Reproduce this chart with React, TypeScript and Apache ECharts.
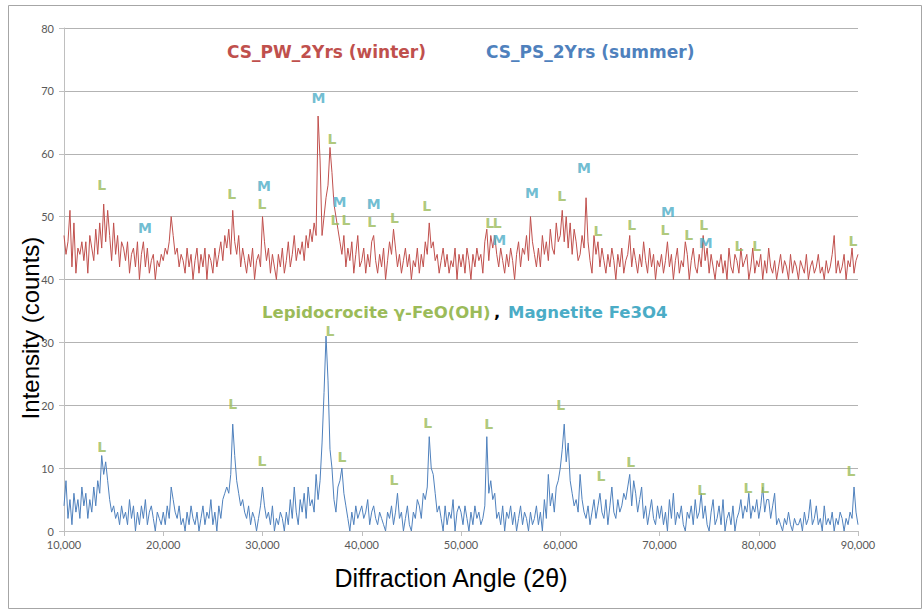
import React, { useEffect, useRef } from "react";
import * as echarts from "echarts";

// Diffraction angle sampling (x axis)
const ANGLE_START = 10000;
const ANGLE_STEP = 200;

// CS_PW_2Yrs (winter) intensity, one value per step from 10,000 to 90,000
const WINTER = [
  47,44,46,51,42,49,41,45,44,46, 43,46,41,47,45,43,48,44,49,45, 52,46,51,47,43,49,44,47,42,46, 45,43,46,41,44,45,42,46,40,44, 46,42,45,41,43,44,40,43,42,44,
  43,45,44,46,50,47,44,45,42,44, 43,41,45,42,44,40,43,45,41,44, 42,45,40,44,43,41,45,42,44,46, 43,47,45,48,44,51,46,44,47,42, 45,43,41,44,42,45,40,43,44,42,
  50,46,43,45,41,44,42,40,44,42, 45,41,43,46,42,44,47,43,45,44, 46,43,47,45,48,46,49,47,66,59, 47,50,53,55,61,57,52,50,48,46, 44,47,42,45,43,46,41,44,47,42,
  43,45,41,44,42,46,47,43,41,44, 42,45,40,43,46,44,48,45,42,44, 41,43,45,42,44,40,43,42,45,41, 44,42,46,44,49,45,46,43,44,41, 43,45,42,44,41,43,42,45,40,44,
  42,44,41,45,43,40,44,42,45,43, 44,41,46,48,43,47,45,47,44,42, 45,43,41,44,42,45,43,40,44,46, 42,45,44,47,43,50,46,44,42,45, 42,47,44,46,43,48,45,44,49,46,
  47,51,46,50,45,49,44,48,46,43, 44,47,45,53,46,43,41,47,44,46, 42,45,43,41,44,42,45,43,40,44, 42,45,41,43,44,47,42,45,43,41, 44,42,46,43,41,45,42,44,40,43,
  42,44,41,43,46,42,44,40,43,45, 41,43,42,46,44,40,43,45,42,41, 44,42,47,43,45,41,44,42,40,43, 42,44,41,43,40,45,42,41,44,43, 41,45,42,43,44,40,42,45,41,43,
  42,44,40,43,41,45,42,41,43,40, 42,44,41,43,42,40,44,41,43,42, 40,43,42,41,44,40,42,43,41,42, 44,41,42,40,43,41,42,44,47,41, 43,41,42,44,40,43,42,45,41,43,
  44,
];

// CS_PS_2Yrs (summer) intensity
const SUMMER = [
  4,8,2,5,1,6,3,5,2,7, 4,6,2,5,3,7,4,8,6,12, 9,11,8,5,3,4,2,3,1,4, 2,3,1,5,2,4,0,3,1,4, 2,5,1,3,4,2,0,3,2,1,
  3,1,4,2,7,5,3,2,4,1, 2,0,3,1,4,2,1,3,0,2, 4,1,3,2,5,1,3,0,4,2, 5,6,7,6,9,17,12,8,6,4, 5,3,2,4,1,3,2,0,2,4,
  7,4,2,3,1,4,0,2,1,3, 2,0,3,1,5,2,7,3,1,5, 3,6,2,7,4,5,3,9,5,8, 14,22,31,24,13,10,5,3,7,8, 10,6,4,2,0,3,1,4,2,3,
  4,2,3,5,1,3,4,2,1,3, 2,1,0,3,2,4,1,3,6,2, 3,0,2,4,1,0,3,2,5,4, 2,6,5,7,15,10,9,6,3,4, 2,0,4,1,3,2,5,0,3,4,
  3,1,4,2,0,3,1,4,2,3, 1,2,4,15,6,8,5,6,2,3, 1,4,0,3,2,4,1,3,0,2, 4,1,3,2,0,3,1,2,4,1, 3,0,5,2,9,4,6,3,7,8,
  10,13,17,11,14,8,6,4,5,3, 9,5,3,2,4,1,3,5,2,4, 6,3,2,5,1,4,7,3,2,5, 3,4,6,5,7,9,4,8,6,3, 5,7,2,4,1,3,5,2,1,4,
  2,4,1,3,0,5,2,6,1,3, 2,4,1,0,3,2,4,1,5,2, 3,6,2,4,1,0,3,5,1,2, 4,1,5,0,2,3,1,4,0,2, 3,5,2,4,3,6,2,4,3,5,
  2,4,7,3,5,5,2,4,6,1, 2,1,0,2,1,3,1,0,2,1, 1,2,0,3,1,2,5,1,2,4, 1,2,0,4,1,2,1,3,0,2, 1,3,2,0,2,1,3,2,7,3,
  1,
];

// Peak annotations: [angle, intensity]
const WINTER_L = [
  [13800, 55], [26900, 53.6], [29950, 52], [37000, 62.3], [37300, 49.5], [38400, 49.5],
  [41000, 49.1], [43300, 49.8], [46550, 51.7], [52900, 49], [53650, 49], [60150, 53.3],
  [63800, 47.7], [67200, 48.7], [70550, 47.9], [72950, 47.1], [74450, 48.7],
  [78000, 45.3], [79800, 45.3], [89500, 46.1],
];
const WINTER_M = [
  [18150, 48.2], [30150, 54.9], [35650, 68.9], [37750, 52.3], [41200, 52], [53850, 46.3],
  [57150, 53.8], [62400, 57.7], [70850, 50.7], [74650, 45.8],
];
const SUMMER_L = [
  [13800, 13.4], [27000, 20.2], [29950, 11.1], [36800, 31.8], [38000, 11.8], [43250, 8.1],
  [46650, 17.2], [52800, 17], [60050, 20], [64100, 8.7], [67100, 11], [74250, 6.5],
  [78900, 6.8], [80600, 6.8], [89300, 9.5],
];

const Y_MIN = 0;
const Y_MAX = 80;
const Y_STEP = 10;
const X_MIN = 10000;
const X_MAX = 90000;
const X_STEP = 10000;

const RED = "#C0504D";
const BLUE = "#4F81BD";
const GREEN = "#9BBB59";
const TEAL = "#4BACC6";

function toPairs(vals: number[]) {
  return vals.map((v, i) => [ANGLE_START + i * ANGLE_STEP, v]);
}

function labelSeries(points: number[][], text: string, color: string) {
  return {
    type: "scatter",
    data: points,
    symbolSize: 1,
    itemStyle: { color: "rgba(0,0,0,0)" },
    silent: true,
    z: 5,
    label: {
      show: true,
      position: "inside",
      formatter: text,
      color,
      fontSize: 14,
      fontWeight: "bold",
      fontFamily: "DejaVu Sans",
    },
  };
}

export default function App() {
  const ref = useRef<HTMLDivElement>(null);
  useEffect(() => {
    document.body.style.margin = "0";
    if (!ref.current) return;
    const chart = echarts.init(ref.current, undefined, { renderer: "svg" });
    const title = { fontFamily: "DejaVu Sans", fontWeight: "bold", fontSize: 17 };
    const legend = { fontFamily: "DejaVu Sans", fontWeight: "bold", fontSize: 16.5 };
    chart.setOption({
      animation: false,
      backgroundColor: "#ffffff",
      grid: { left: 64, right: 64, top: 28, bottom: 79, containLabel: false },
      xAxis: {
        type: "value",
        min: X_MIN,
        max: X_MAX,
        interval: X_STEP,
        axisLine: { show: true, lineStyle: { color: "#bfbfbf" } },
        axisTick: { show: true, length: 5, lineStyle: { color: "#bfbfbf" } },
        splitLine: { show: false },
        axisLabel: {
          color: "#595959",
          fontSize: 11,
          fontFamily: "Lato",
          margin: 8,
          formatter: (v: number) => v.toLocaleString("en-US"),
        },
      },
      yAxis: {
        type: "value",
        min: Y_MIN,
        max: Y_MAX,
        interval: Y_STEP,
        axisLine: { show: true, lineStyle: { color: "#bfbfbf" } },
        axisTick: { show: true, length: 5, lineStyle: { color: "#bfbfbf" } },
        splitLine: { show: true, lineStyle: { color: "#b3b3b3" } },
        axisLabel: { color: "#595959", fontSize: 11, fontFamily: "Lato", margin: 10 },
      },
      graphic: [
        {
          type: "rect",
          shape: { x: 8.5, y: 5.5, width: 913, height: 603 },
          style: { fill: "none", stroke: "#a6a6a6", lineWidth: 1 },
          silent: true,
        },
        {
          type: "text",
          x: 30,
          y: 328,
          rotation: Math.PI / 2,
          style: {
            text: "Intensity (counts)",
            fontSize: 24,
            fontFamily: "Liberation Sans",
            fill: "#000",
            align: "center",
            verticalAlign: "middle",
          },
        },
        {
          type: "text",
          x: 451,
          y: 578,
          style: {
            text: "Diffraction Angle (2θ)",
            fontSize: 25,
            fontFamily: "Liberation Sans",
            fill: "#000",
            align: "center",
            verticalAlign: "middle",
          },
        },
        {
          type: "text",
          x: 227,
          y: 52,
          style: { text: "CS_PW_2Yrs (winter)", ...title, fill: RED, verticalAlign: "middle" },
        },
        {
          type: "text",
          x: 486,
          y: 52,
          style: { text: "CS_PS_2Yrs (summer)", ...title, fill: BLUE, verticalAlign: "middle" },
        },
        {
          type: "text",
          x: 262,
          y: 312,
          style: { text: "Lepidocrocite γ-FeO(OH)", ...legend, fill: GREEN, verticalAlign: "middle" },
        },
        {
          type: "text",
          x: 494,
          y: 312,
          style: { text: ",", ...legend, fill: "#000", verticalAlign: "middle" },
        },
        {
          type: "text",
          x: 508,
          y: 312,
          style: { text: "Magnetite Fe3O4", ...legend, fill: TEAL, verticalAlign: "middle" },
        },
      ],
      series: [
        {
          type: "line",
          name: "CS_PW_2Yrs (winter)",
          data: toPairs(WINTER),
          showSymbol: false,
          symbol: "none",
          lineStyle: { color: RED, width: 1 },
          silent: true,
        },
        {
          type: "line",
          name: "CS_PS_2Yrs (summer)",
          data: toPairs(SUMMER),
          showSymbol: false,
          symbol: "none",
          lineStyle: { color: BLUE, width: 1 },
          silent: true,
        },
        labelSeries(WINTER_L, "L", GREEN),
        labelSeries(WINTER_M, "M", TEAL),
        labelSeries(SUMMER_L, "L", GREEN),
      ],
    });
    return () => chart.dispose();
  }, []);
  return <div ref={ref} style={{ width: 922, height: 610 }} />;
}
